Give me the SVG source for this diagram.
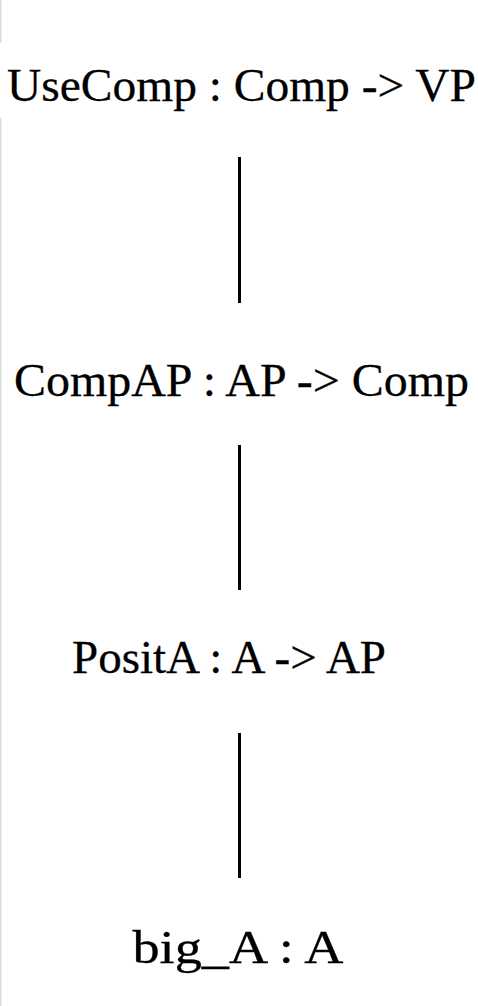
<svg xmlns="http://www.w3.org/2000/svg" width="478" height="1006" viewBox="0 0 478 1006">
<style>
.lbl{font-family:"Liberation Serif","Times New Roman",serif;font-size:47px;fill:#000;stroke:#000;stroke-width:0.3}
.edge{stroke:#000;stroke-width:3;fill:none}
.frame{stroke:#dcdcdc;stroke-width:1.5}
</style>
<rect width="478" height="1006" fill="#fff"/>
<line class="frame" x1="0.75" y1="0" x2="0.75" y2="43"/>
<line class="frame" x1="0.75" y1="118" x2="0.75" y2="1006"/>
<g id="connectors">
<line class="edge" x1="239.5" y1="157" x2="239.5" y2="303"/>
<line class="edge" x1="239.5" y1="445" x2="239.5" y2="590"/>
<line class="edge" x1="239.5" y1="733" x2="239.5" y2="878"/>
</g>
<g id="node-usecomp"><text class="lbl" x="7" y="101" textLength="469" lengthAdjust="spacingAndGlyphs">UseComp : Comp -&gt; VP</text></g>
<g id="node-compap"><text class="lbl" x="14" y="396" textLength="455" lengthAdjust="spacingAndGlyphs">CompAP : AP -&gt; Comp</text></g>
<g id="node-posita"><text class="lbl" x="72" y="673" textLength="314" lengthAdjust="spacingAndGlyphs">PositA : A -&gt; AP</text></g>
<g id="node-big-a"><text class="lbl" x="132.5" y="963" textLength="211" lengthAdjust="spacingAndGlyphs">big_A : A</text></g>
</svg>
